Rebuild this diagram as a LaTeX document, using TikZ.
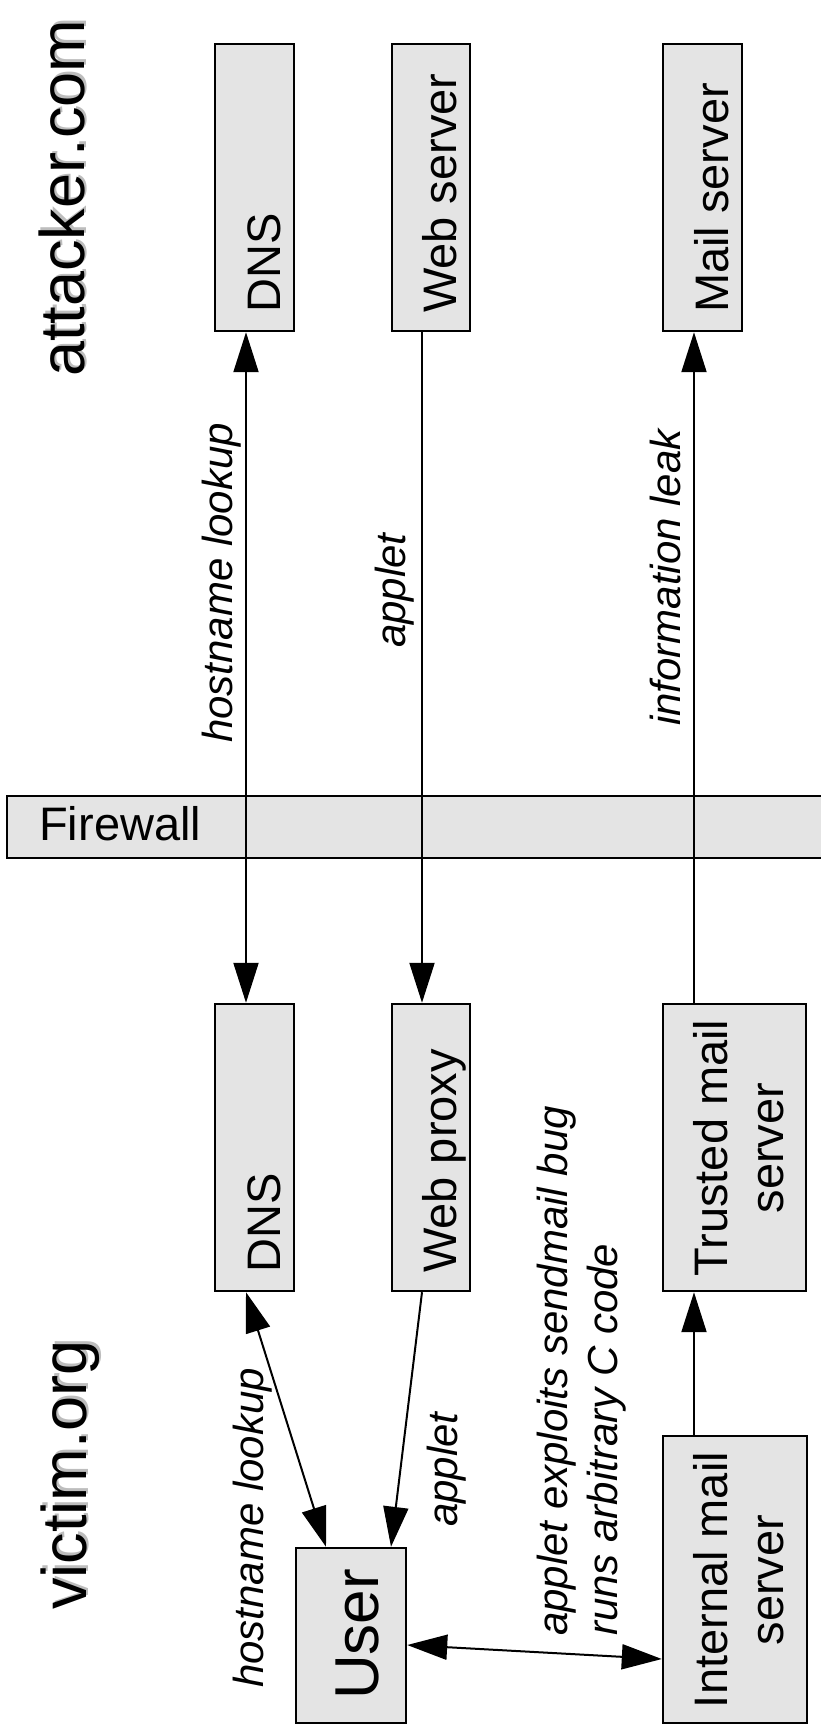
\documentclass[tikz,border=0pt]{standalone}
\usepackage{fontspec}
\setmainfont{Liberation Sans}
\usetikzlibrary{arrows.meta}
\definecolor{boxgray}{HTML}{E4E4E4}
\definecolor{shadowgray}{HTML}{BDBDBD}

\begin{document}
\begin{tikzpicture}[x=1pt,y=-1pt,
  box/.style={draw=black, line width=2.4pt, fill=boxgray, inner sep=0pt},
  boxlabel/.style={rotate=90, anchor=base west, inner sep=0pt, font=\fontsize{47}{56}\selectfont},
  boxline/.style={rotate=90, anchor=base, inner sep=0pt, font=\fontsize{47}{56}\selectfont},
  fwlabel/.style={anchor=base west, inner sep=0pt, font=\fontsize{47}{56}\selectfont},
  edgelabel/.style={rotate=90, anchor=base west, inner sep=0pt, font=\fontsize{42}{50}\selectfont\itshape},
  sitename/.style={rotate=90, anchor=base west, inner sep=0pt, font=\fontsize{63}{72}\selectfont},
  link/.style={line width=2pt, draw=black},
  fwd/.style={link, -{Triangle[length=40pt,width=25pt]}},
  both/.style={link, {Triangle[length=40pt,width=25pt]}-{Triangle[length=40pt,width=25pt]}}
]
\useasboundingbox (0,0) rectangle (820,1735);

% site headings with drop shadow
\node[sitename, text=shadowgray] (atkshadow) at (86.5,374.5) {attacker.com};
\node[sitename] (atk) at (84,377) {attacker.com};
\node[sitename, text=shadowgray] (vicshadow) at (88.5,1607.5) {victim.org};
\node[sitename] (vic) at (86,1610) {victim.org};

% attacker.com hosts
\node[box, minimum width=79pt, minimum height=287pt] (dnsA) at (254.5,187.5) {};
\node[box, minimum width=78pt, minimum height=287pt] (webA) at (431,187.5) {};
\node[box, minimum width=79pt, minimum height=287pt] (mailA) at (702.5,187.5) {};
\node[boxlabel] (dnsAtext) at (280,313) {DNS};
\node[boxlabel] (webAtext) at (456,313) {Web server};
\node[boxlabel] (mailAtext) at (728,313) {Mail server};

% firewall band
\node[box, minimum width=818pt, minimum height=62pt] (fw) at (416,827) {};
\node[fwlabel] (fwtext) at (39,840) {Firewall};

% victim.org hosts
\node[box, minimum width=79pt, minimum height=287pt] (dnsB) at (254.5,1147.5) {};
\node[box, minimum width=78pt, minimum height=287pt] (proxyB) at (431,1147.5) {};
\node[box, minimum width=143pt, minimum height=287pt] (trustB) at (734.5,1147.5) {};
\node[box, minimum width=144pt, minimum height=287pt] (intB) at (735,1579.5) {};
\node[box, minimum width=110pt, minimum height=175pt] (user) at (351,1635.5) {};
\node[boxlabel] (dnsBtext) at (280,1273) {DNS};
\node[boxlabel] (proxyBtext) at (456,1273) {Web proxy};
\node[boxline] (trust1) at (727,1148) {Trusted mail};
\node[boxline] (trust2) at (783,1148) {server};
\node[boxline] (int1) at (727,1580) {Internal mail};
\node[boxline] (int2) at (783,1580) {server};
\node[boxlabel, font=\fontsize{62}{70}\selectfont] (usertext) at (378,1700) {User};

% connectors
\draw[both] ([xshift=-8.5pt]dnsA.south) -- ([xshift=-8.5pt]dnsB.north);
\draw[fwd] ([xshift=-9pt]webA.south) -- ([xshift=-9pt]proxyB.north);
\draw[fwd] ([xshift=-40.5pt]trustB.north) -- ([xshift=-8.5pt]mailA.south);
\draw[fwd] ([xshift=-41pt]intB.north) -- ([xshift=-40.5pt]trustB.south);
\draw[both] ([xshift=-8.5pt]dnsB.south) -- ([xshift=-25pt]user.north);
\draw[fwd] ([xshift=-9pt]proxyB.south) -- ([xshift=40pt]user.north);
\draw[both] ([yshift=-9.5pt]user.east) -- ([yshift=-79.5pt]intB.west);

% connector labels
\node[edgelabel] (lookupA) at (232,743) {hostname lookup};
\node[edgelabel] (appletA) at (405,648) {applet};
\node[edgelabel] (leak) at (680,726) {information leak};
\node[edgelabel] (lookupB) at (263,1688) {hostname lookup};
\node[edgelabel] (appletB) at (457,1527) {applet};
\node[edgelabel] (exploit1) at (567,1636) {applet exploits sendmail bug};
\node[edgelabel] (exploit2) at (617,1636) {runs arbitrary C code};
\end{tikzpicture}
\end{document}
